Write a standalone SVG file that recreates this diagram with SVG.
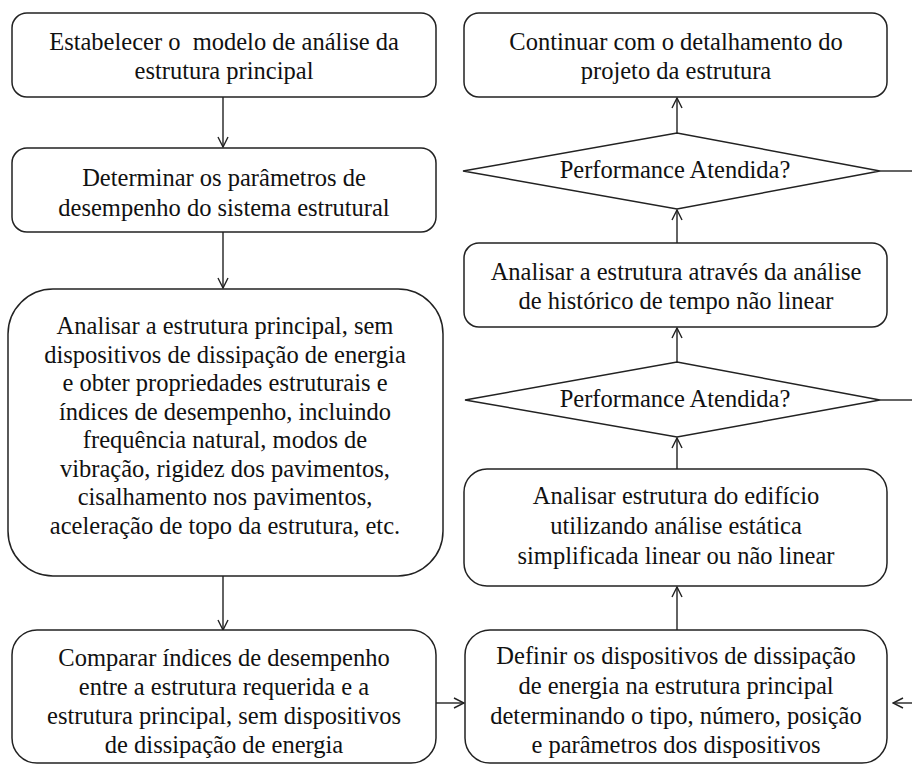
<svg xmlns="http://www.w3.org/2000/svg" width="912" height="775" viewBox="0 0 912 775">
<style>
.box{fill:#fff;stroke:#222;stroke-width:1.5}
.t{font-family:'Liberation Serif','Times New Roman',Tinos,'DejaVu Serif',serif;font-size:24.5px;fill:#111;text-anchor:middle}
.c{fill:none;stroke:#222;stroke-width:1.4}
</style>
<defs>
<marker id="ah" markerUnits="userSpaceOnUse" markerWidth="12" markerHeight="12" refX="11" refY="6" orient="auto" viewBox="0 0 12 12">
<path d="M1,1 L11,6 L1,11" fill="none" stroke="#222" stroke-width="1.4"/>
</marker>
</defs>
<rect width="912" height="775" fill="#fff"/>
<g id="connectors">
<line class="c" x1="223" y1="97" x2="223" y2="147" marker-end="url(#ah)"/>
<line class="c" x1="223" y1="232" x2="223" y2="288" marker-end="url(#ah)"/>
<line class="c" x1="223" y1="576" x2="223" y2="630" marker-end="url(#ah)"/>
<line class="c" x1="436" y1="703" x2="464" y2="703" marker-end="url(#ah)"/>
<line class="c" x1="677" y1="630" x2="677" y2="587" marker-end="url(#ah)"/>
<line class="c" x1="677" y1="469" x2="677" y2="438" marker-end="url(#ah)"/>
<line class="c" x1="677" y1="362" x2="677" y2="328" marker-end="url(#ah)"/>
<line class="c" x1="677" y1="243" x2="677" y2="210" marker-end="url(#ah)"/>
<line class="c" x1="677" y1="133" x2="677" y2="98" marker-end="url(#ah)"/>
<line class="c" x1="880" y1="171" x2="912" y2="171"/>
<line class="c" x1="880" y1="400" x2="912" y2="400"/>
<line class="c" x1="912" y1="703" x2="893" y2="703" marker-end="url(#ah)"/>
</g>
<g id="n1">
<rect class="box" x="12" y="13" width="424" height="84" rx="15"/>
<text class="t" x="224" y="50" xml:space="preserve">Estabelecer o  modelo de análise da</text>
<text class="t" x="224" y="79">estrutura principal</text>
</g>
<g id="n2">
<rect class="box" x="12" y="148" width="424" height="84" rx="15"/>
<text class="t" x="224" y="186">Determinar os parâmetros de</text>
<text class="t" x="224" y="216">desempenho do sistema estrutural</text>
</g>
<g id="n3">
<rect class="box" x="8" y="289" width="435" height="287" rx="45"/>
<text class="t" x="225" y="334">Analisar a estrutura principal, sem</text>
<text class="t" x="225" y="362.5">dispositivos de dissipação de energia</text>
<text class="t" x="225" y="391">e obter propriedades estruturais e</text>
<text class="t" x="225" y="419.5">índices de desempenho, incluindo</text>
<text class="t" x="225" y="448">frequência natural, modos de</text>
<text class="t" x="225" y="476.5">vibração, rigidez dos pavimentos,</text>
<text class="t" x="225" y="505">cisalhamento nos pavimentos,</text>
<text class="t" x="225" y="534">aceleração de topo da estrutura, etc.</text>
</g>
<g id="n4">
<rect class="box" x="12" y="630" width="424" height="133" rx="25"/>
<text class="t" x="224" y="666">Comparar índices de desempenho</text>
<text class="t" x="224" y="695">entre a estrutura requerida e a</text>
<text class="t" x="224" y="724">estrutura principal, sem dispositivos</text>
<text class="t" x="224" y="753">de dissipação de energia</text>
</g>
<g id="r1">
<rect class="box" x="464" y="13" width="423" height="84" rx="15"/>
<text class="t" x="676" y="50">Continuar com o detalhamento do</text>
<text class="t" x="676" y="79">projeto da estrutura</text>
</g>
<g id="d1">
<polygon class="box" points="463,171 677,133 880,171 677,209"/>
<text class="t" x="675" y="178">Performance Atendida?</text>
</g>
<g id="r2">
<rect class="box" x="464" y="243" width="423" height="84" rx="15"/>
<text class="t" x="676" y="280">Analisar a estrutura através da análise</text>
<text class="t" x="676" y="309">de histórico de tempo não linear</text>
</g>
<g id="d2">
<polygon class="box" points="465,400 677,362 880,400 677,437"/>
<text class="t" x="675" y="407">Performance Atendida?</text>
</g>
<g id="r3">
<rect class="box" x="464" y="469" width="423" height="117" rx="23"/>
<text class="t" x="676" y="504">Analisar estrutura do edifício</text>
<text class="t" x="676" y="534">utilizando análise estática</text>
<text class="t" x="676" y="564">simplificada linear ou não linear</text>
</g>
<g id="r4">
<rect class="box" x="465" y="630" width="422" height="133" rx="25"/>
<text class="t" x="676" y="664">Definir os dispositivos de dissipação</text>
<text class="t" x="676" y="694">de energia na estrutura principal</text>
<text class="t" x="676" y="724">determinando o tipo, número, posição</text>
<text class="t" x="676" y="753">e parâmetros dos dispositivos</text>
</g>
</svg>
